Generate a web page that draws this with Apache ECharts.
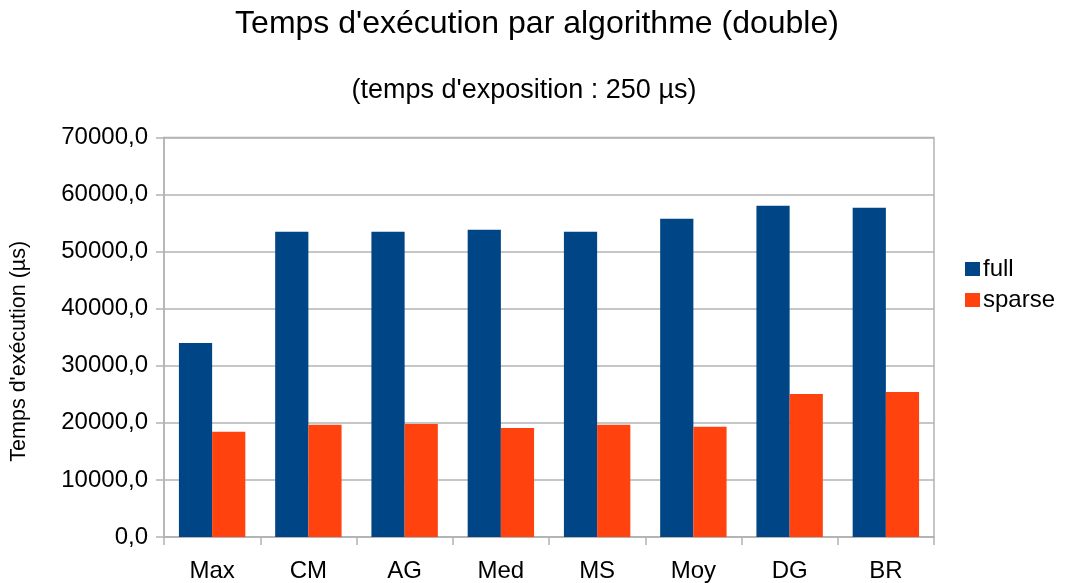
<!DOCTYPE html>
<html><head><meta charset="utf-8">
<script src="https://cdn.jsdelivr.net/npm/echarts@6/dist/echarts.min.js"></script>
<style>html,body{margin:0;padding:0;background:#fff}#c{width:1067px;height:583px}</style>
</head><body><div id="c"></div>
<script>
const categories = ['Max','CM','AG','Med','MS','Moy','DG','BR'];
const fullValues = [34000,53500,53500,53850,53500,55770,58040,57690];
const sparseValues = [18430,19650,19820,19120,19650,19300,25060,25400];
const seriesNames = ['full','sparse'];
const font = 'Liberation Sans';
const chart = echarts.init(document.getElementById('c'));
chart.setOption({
  animation:false,
  textStyle:{fontFamily:font},
  title:[
    {text:"Temps d'exécution par algorithme (double)",left:532,textAlign:'center',top:3,textStyle:{fontFamily:font,fontSize:32,fontWeight:'normal',color:'#000'}},
    {text:"(temps d'exposition : 250 µs)",left:519,textAlign:'center',top:72,textStyle:{fontFamily:font,fontSize:27,fontWeight:'normal',color:'#000'}}
  ],
  legend:{orient:'vertical',left:960,top:252,itemWidth:15,itemHeight:14,itemGap:7,icon:'rect',
    textStyle:{fontFamily:font,fontSize:24,color:'#000',padding:[0,0,0,-2]},data:seriesNames},
  grid:{left:164,right:133,top:137.5,bottom:44.5,show:true,borderColor:'#b3b3b3',borderWidth:1.5},
  xAxis:{type:'category',data:categories,
    axisLine:{lineStyle:{color:'#b3b3b3',width:1.5}},
    axisTick:{show:true,length:8,lineStyle:{color:'#b3b3b3',width:1.5}},
    axisLabel:{fontFamily:font,fontSize:24,color:'#000',margin:22}},
  yAxis:{type:'value',min:0,max:70000,interval:10000,
    name:"Temps d'exécution (µs)",nameLocation:'middle',nameGap:134,nameRotate:90,
    nameTextStyle:{fontFamily:font,fontSize:21.5,color:'#000',padding:[0,28,0,0]},
    axisLine:{show:true,lineStyle:{color:'#b3b3b3',width:1.5}},
    axisTick:{show:true,length:8,lineStyle:{color:'#b3b3b3',width:1.5}},
    splitLine:{lineStyle:{color:'#b3b3b3',width:1.5}},
    axisLabel:{fontFamily:font,fontSize:24,color:'#000',margin:16,
      formatter:v=>v.toFixed(1).replace('.',',')}},
  series:[
    {name:seriesNames[0],type:'bar',data:fullValues,itemStyle:{color:'#004586'},barGap:'0%',barCategoryGap:'31%'},
    {name:seriesNames[1],type:'bar',data:sparseValues,itemStyle:{color:'#ff420e'},barGap:'0%',barCategoryGap:'31%'}
  ]
});
</script></body></html>
